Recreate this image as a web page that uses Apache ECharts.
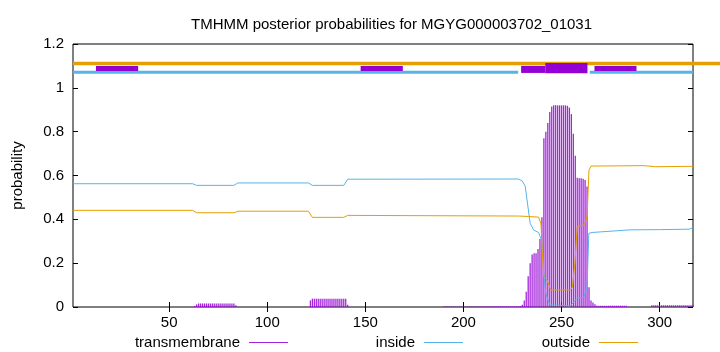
<!DOCTYPE html>
<html>
<head>
<meta charset="utf-8">
<script src="https://cdn.jsdelivr.net/npm/echarts@6/dist/echarts.min.js"></script>
<style>
html, body { margin: 0; padding: 0; background: #fff; }
#chart { width: 720px; height: 352px; }
</style>
</head>
<body>
<div id="chart"></div>
<script>
var seqStart = 1;
var seqEnd = 317;
var xTicks = [50, 100, 150, 200, 250, 300];

// posterior curves, [position, probability]
var insidePts = [
    [1, 0.5625], [62, 0.5625], [64, 0.555], [83, 0.555], [85, 0.566], [121, 0.566],
    [123, 0.555], [139, 0.555], [141, 0.583], [228, 0.584], [230, 0.575], [231.5, 0.55],
    [234, 0.382], [235.8, 0.351], [238.3, 0.34], [240, 0.30], [241, 0.15], [242, 0.06],
    [244, 0.01], [254.5, 0.005], [257.9, 0.04], [261.3, 0.045], [263, 0.09], [263.9, 0.336],
    [265.6, 0.34], [285, 0.352], [300, 0.353], [315, 0.355], [317, 0.362]
];
var outsidePts = [
    [1, 0.441], [62, 0.441], [64, 0.430], [83, 0.430], [85, 0.437], [121, 0.437],
    [123, 0.409], [139, 0.409], [141, 0.418], [228, 0.415], [233, 0.413], [238.3, 0.41],
    [239.5, 0.38], [240.5, 0.2], [241, 0.138], [242.5, 0.125], [244.5, 0.078], [254.5, 0.078],
    [255.5, 0.09], [256.8, 0.2], [258, 0.368], [261.5, 0.375], [263, 0.41], [264, 0.625],
    [265, 0.643], [292, 0.645], [298, 0.640], [317, 0.642]
];

// transmembrane impulses: flat stretches [from, to, value] and the peak one by one
var tmRuns = [
    [63, 63, 0.005], [64, 64, 0.012], [65, 83, 0.016], [84, 84, 0.008],
    [122, 122, 0.03], [123, 140, 0.038], [141, 141, 0.01],
    [190, 228, 0.003],
    [268, 283, 0.006],
    [296, 317, 0.008]
];
var tmPeak = [
    [229, 0.005], [230, 0.01], [231, 0.03], [232, 0.07], [233, 0.14], [234, 0.20],
    [235, 0.24], [236, 0.245], [237, 0.245], [238, 0.265], [239, 0.31], [240, 0.41],
    [241, 0.77], [242, 0.80], [243, 0.84], [244, 0.89], [245, 0.915], [246, 0.92],
    [247, 0.92], [248, 0.92], [249, 0.92], [250, 0.92], [251, 0.92], [252, 0.92],
    [253, 0.918], [254, 0.91], [255, 0.88], [256, 0.79], [257, 0.69], [258, 0.59],
    [259, 0.587], [260, 0.587], [261, 0.585], [262, 0.58], [263, 0.55], [264, 0.09],
    [265, 0.03], [266, 0.02], [267, 0.012]
];

// predicted topology bands on top, [from, to, yLow, yHigh]
var topOutside = [[1, 335, 1.103, 1.119]];
var topInside = [[1, 227.9, 1.064, 1.078], [264.4, 317, 1.064, 1.078]];
var topTm = [
    [12.7, 34.2, 1.077, 1.1], [147.6, 169.1, 1.077, 1.1], [229.4, 241.7, 1.068, 1.1],
    [241.7, 263.2, 1.066, 1.113], [266.8, 288.2, 1.077, 1.1]
];

var tmData = [];
tmRuns.forEach(function (r) {
    for (var x = r[0]; x <= r[1]; x++) tmData.push([x, r[2]]);
});
tmData = tmData.concat(tmPeak);

var FONT = 'Liberation Sans';
var FS = 15;
var COL_TM = '#9400d3', COL_IN = '#56b4e9', COL_OUT = '#e69f00';

function bandItem(params, api) {
    var p0 = api.coord([api.value(0), api.value(3)]);
    var p1 = api.coord([api.value(1), api.value(2)]);
    return {
        type: 'rect',
        shape: { x: p0[0], y: p0[1], width: p1[0] - p0[0], height: p1[1] - p0[1] },
        style: { fill: api.visual('color') }
    };
}

function legendAt(name, right) {
    return {
        data: [name], right: right, top: 335, orient: 'horizontal', align: 'right',
        icon: 'rect', itemWidth: 39, itemHeight: 1, padding: 0, selectedMode: false,
        textStyle: { fontFamily: FONT, fontSize: FS, color: '#000', padding: [0, 4, 0, 0] }
    };
}

var tickStyle = { show: true, inside: true, length: 5, lineStyle: { color: '#000', width: 1 } };

var chart = echarts.init(document.getElementById('chart'));
chart.setOption({
    animation: false,
    backgroundColor: '#fff',
    title: {
        text: 'TMHMM posterior probabilities for MGYG000003702_01031',
        left: 186, top: 12,
        textStyle: { fontFamily: FONT, fontSize: FS, fontWeight: 'normal', color: '#000' }
    },
    legend: [legendAt('transmembrane', 432), legendAt('inside', 257), legendAt('outside', 82)],
    grid: { left: 73, right: 27, top: 44, bottom: 45, show: true, borderColor: '#000', borderWidth: 1 },
    xAxis: [{
        type: 'value', min: seqStart, max: seqEnd,
        axisLine: { show: false }, splitLine: { show: false },
        axisTick: Object.assign({ customValues: xTicks }, tickStyle),
        axisLabel: { customValues: xTicks, margin: 8, fontFamily: FONT, fontSize: FS, color: '#000' }
    }, {
        type: 'value', position: 'top', min: seqStart, max: seqEnd,
        axisLine: { show: false }, splitLine: { show: false }, axisLabel: { show: false },
        axisTick: Object.assign({ customValues: xTicks }, tickStyle)
    }],
    yAxis: [{
        type: 'value', min: 0, max: 1.2, interval: 0.2,
        name: 'probability', nameLocation: 'middle', nameGap: 48,
        nameTextStyle: { fontFamily: FONT, fontSize: FS, color: '#000' },
        axisLine: { show: false }, splitLine: { show: false }, axisTick: tickStyle,
        axisLabel: { margin: 9, fontFamily: FONT, fontSize: FS, color: '#000' }
    }, {
        type: 'value', position: 'right', min: 0, max: 1.2, interval: 0.2,
        axisLine: { show: false }, splitLine: { show: false }, axisTick: tickStyle,
        axisLabel: { show: false }
    }],
    series: [{
        name: 'transmembrane', type: 'bar', data: tmData, barWidth: 1.3,
        itemStyle: { color: COL_TM, opacity: 0.85 }
    }, {
        name: 'inside', type: 'line', data: insidePts, showSymbol: false,
        lineStyle: { color: COL_IN, width: 1 }, itemStyle: { color: COL_IN }
    }, {
        name: 'outside', type: 'line', data: outsidePts, showSymbol: false,
        lineStyle: { color: COL_OUT, width: 1 }, itemStyle: { color: COL_OUT }
    }, {
        type: 'custom', renderItem: bandItem, data: topOutside, clip: false,
        encode: { x: [0, 1], y: [2, 3] }, itemStyle: { color: COL_OUT }
    }, {
        type: 'custom', renderItem: bandItem, data: topInside,
        encode: { x: [0, 1], y: [2, 3] }, itemStyle: { color: COL_IN }
    }, {
        type: 'custom', renderItem: bandItem, data: topTm,
        encode: { x: [0, 1], y: [2, 3] }, itemStyle: { color: COL_TM }
    }]
});
</script>
</body>
</html>
